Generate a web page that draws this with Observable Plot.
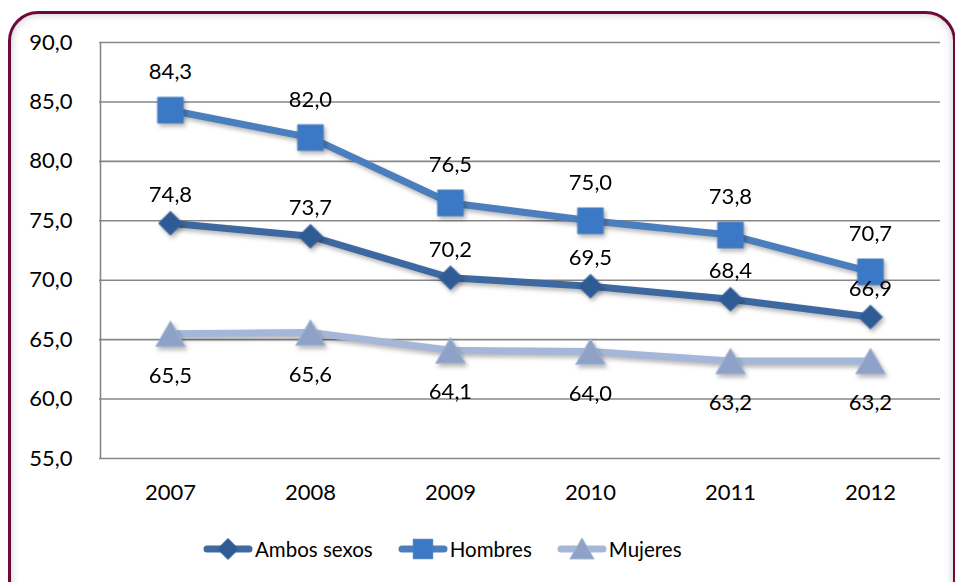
<!DOCTYPE html>
<html>
<head>
<meta charset="utf-8">
<script src="https://cdn.jsdelivr.net/npm/d3@7"></script>
<script src="https://cdn.jsdelivr.net/npm/@observablehq/plot@0.6"></script>
<style>
  html, body { margin: 0; padding: 0; background: #fff; width: 955px; height: 582px; overflow: hidden; }
  #frame {
    position: absolute; left: 8px; top: 11px; width: 942px; height: 620px;
    border: 3.5px solid #6e0a3b; border-radius: 30px;
    box-shadow: inset 0 0 9px rgba(0,0,0,0.22);
    background: #fff;
  }
  #chart { position: absolute; left: 0; top: 0; }
  #chart svg { font-family: Lato, "Open Sans", sans-serif; }
  .series-line { filter: drop-shadow(2px 3px 2px rgba(0,0,0,0.28)); }
  #legend {
    position: absolute; left: 203px; top: 534px; height: 30px;
    display: flex; justify-content: flex-start; align-items: center;
    font-family: Lato, "Open Sans", sans-serif; font-size: 20.5px; color: #000;
  }
  .item { display: flex; align-items: center; margin-right: 25px; }
  .item svg { display: block; margin-right: 2px; }
</style>
</head>
<body>
<div id="frame"></div>
<div id="chart"></div>
<div id="legend"></div>
<script>
const years = ["2007", "2008", "2009", "2010", "2011", "2012"];
const ambos = [74.8, 73.7, 70.2, 69.5, 68.4, 66.9];
const hombres = [84.3, 82.0, 76.5, 75.0, 73.8, 70.7];
const mujeres = [65.5, 65.6, 64.1, 64.0, 63.2, 63.2];
const yTicks = [55, 60, 65, 70, 75, 80, 85, 90];
const seriesNames = ["Ambos sexos", "Hombres", "Mujeres"];

const fmt = v => v.toFixed(1).replace(".", ",");

const styles = {
  "Ambos sexos": {line: "#3d68a0", marker: "#2f5b95", symbol: "diamond2", r: 10.8, dy: 0, labelDy: -28},
  "Hombres": {line: "#4a7ebd", marker: "#3b78c5", symbol: "square", r: 14.5, dy: 0, labelDy: -38},
  "Mujeres": {line: "#a4b7d8", marker: "#8ea2c8", symbol: "triangle", r: 11, dy: 4.3, labelDy: 42}
};

const valuesBySeries = {"Ambos sexos": ambos, "Hombres": hombres, "Mujeres": mujeres};
const table = seriesNames.flatMap(s => years.map((y, i) => ({series: s, year: y, value: valuesBySeries[s][i]})));

const drawOrder = ["Mujeres", "Ambos sexos", "Hombres"];
const marks = [
  Plot.ruleY(yTicks, {stroke: "#878787", strokeWidth: 1.6}),
  Plot.ruleX([years[0]], {stroke: "#878787", strokeWidth: 1.6, dx: -70, y1: yTicks[0], y2: yTicks[yTicks.length - 1]}),
  Plot.axisY({ticks: yTicks, tickSize: 0, tickPadding: 27, tickFormat: fmt, fontSize: 22, label: null}),
  Plot.axisX({tickSize: 0, tickPadding: 26, fontSize: 22, label: null})
];
for (const s of drawOrder) {
  const st = styles[s];
  const data = table.filter(d => d.series === s);
  marks.push(Plot.line(data, {x: "year", y: "value", stroke: st.line, strokeWidth: 7, strokeLinejoin: "round", className: "series-line"}));
  marks.push(Plot.dot(data, {x: "year", y: "value", symbol: () => st.symbol, r: st.r, dy: st.dy, fill: st.marker, stroke: st.line, strokeWidth: 1, className: "series-line"}));
}
for (const s of drawOrder) {
  const st = styles[s];
  const data = table.filter(d => d.series === s);
  marks.push(Plot.text(data, {x: "year", y: "value", text: d => fmt(d.value), dy: st.labelDy, fontSize: 22, fill: "#000"}));
}

const chart = Plot.plot({
  width: 955, height: 520,
  marginTop: 42, marginBottom: 62, marginLeft: 99, marginRight: 15,
  x: {type: "point", domain: years, padding: 0.5, label: null},
  y: {domain: [55, 90], label: null},
  style: {background: "transparent", fontFamily: "Lato, 'Open Sans', sans-serif", color: "#000"},
  marks
});
document.getElementById("chart").appendChild(chart);

// Legend
const legend = d3.select("#legend");
const symbolPaths = {
  "diamond2": d3.symbol(d3.symbolDiamond2, Math.PI * 9.5 * 9.5)(),
  "square": d3.symbol(d3.symbolSquare, Math.PI * 11 * 11)(),
  "triangle": d3.symbol(d3.symbolTriangle, Math.PI * 9 * 9)()
};
for (const s of seriesNames) {
  const st = styles[s];
  const item = legend.append("div").attr("class", "item");
  const svg = item.append("svg").attr("width", 50).attr("height", 26);
  svg.append("line").attr("x1", 4).attr("x2", 46).attr("y1", 13).attr("y2", 13)
    .attr("stroke", st.line).attr("stroke-width", 7).attr("stroke-linecap", "round");
  svg.append("path").attr("d", symbolPaths[st.symbol])
    .attr("transform", `translate(25,${st.symbol === "triangle" ? 16 : 13})`)
    .attr("fill", st.marker).attr("stroke", st.line);
  item.append("span").text(s);
}
</script>
</body>
</html>
